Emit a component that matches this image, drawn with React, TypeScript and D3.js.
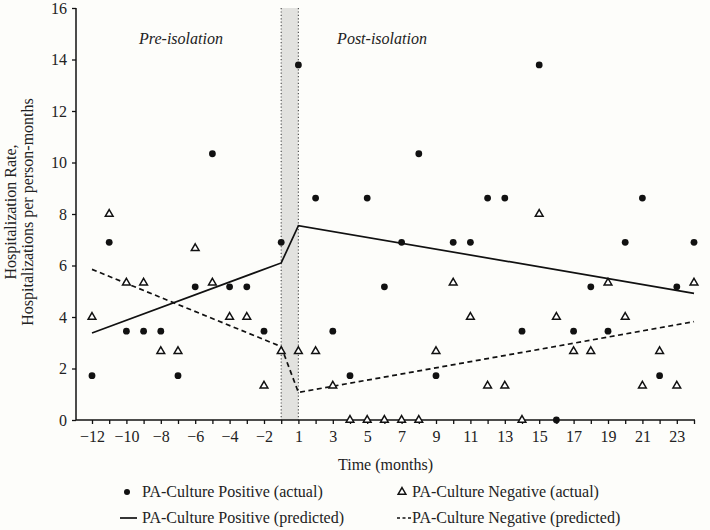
import React, { useEffect, useRef } from 'react';
import * as d3 from 'd3';

// month positions along the axis (there is no month 0)
const months = [-12, -11, -10, -9, -8, -7, -6, -5, -4, -3, -2, -1, 1, 2, 3, 4, 5, 6, 7, 8, 9, 10, 11, 12, 13, 14, 15, 16, 17, 18, 19, 20, 21, 22, 23, 24];
const monthLabels = ['−12', '', '−10', '', '−8', '', '−6', '', '−4', '', '−2', '', '1', '', '3', '', '5', '', '7', '', '9', '', '11', '', '13', '', '15', '', '17', '', '19', '', '21', '', '23', ''];
const yTicks = [0, 2, 4, 6, 8, 10, 12, 14, 16];

// PA-Culture Positive (actual), one value per month
const positiveActual = [1.72, 6.9, 3.45, 3.45, 3.45, 1.72, 5.17, 10.34, 5.17, 5.17, 3.45, 6.9, 13.79, 8.62, 3.45, 1.72, 8.62, 5.17, 6.9, 10.34, 1.72, 6.9, 6.9, 8.62, 8.62, 3.45, 13.79, 0, 3.45, 5.17, 3.45, 6.9, 8.62, 1.72, 5.17, 6.9];
// PA-Culture Negative (actual)
const negativeActual = [4.0, 8.0, 5.33, 5.33, 2.67, 2.67, 6.67, 5.33, 4.0, 4.0, 1.33, 2.67, 2.67, 2.67, 1.33, 0, 0, 0, 0, 0, 2.67, 5.33, 4.0, 1.33, 1.33, 0, 8.0, 4.0, 2.67, 2.67, 5.33, 4.0, 1.33, 2.67, 1.33, 5.33];

// segmented regression fits (segment ends)
const fitMonths = [-12, -1, 1, 24];
const positivePredicted = [3.38, 6.1, 7.55, 4.92];
const negativePredicted = [5.85, 2.85, 1.07, 3.82];

const FONT = '"Liberation Serif"';

export default function App() {
  const axisRef = useRef<SVGGElement>(null);

  const left = 76;
  const right = 695;
  const top = 8;
  const bottom = 420;

  const xScale = d3.scaleLinear().domain([0, months.length - 1]).range([92, 694]);
  const yScale = d3.scaleLinear().domain([0, 16]).range([bottom, top]);
  const xOf = (m: number) => xScale(months.indexOf(m));

  const tri = d3.symbol().type(d3.symbolTriangle).size(26)();

  const line = d3
    .line<number>()
    .x((_, i) => xOf(fitMonths[i]))
    .y((d) => yScale(d));

  useEffect(() => {
    const g = d3.select(axisRef.current);
    g.selectAll('*').remove();

    const yAxis = d3
      .axisLeft(yScale)
      .tickValues(yTicks)
      .tickSize(4)
      .tickSizeOuter(0)
      .tickPadding(5);
    const xAxis = d3
      .axisBottom(xScale)
      .tickValues(months.map((_, i) => i))
      .tickFormat((i) => monthLabels[i as number])
      .tickSize(4)
      .tickSizeOuter(0)
      .tickPadding(7);

    const ya = g.append('g').attr('transform', `translate(${left},0)`).call(yAxis);
    const xa = g.append('g').attr('transform', `translate(0,${bottom})`).call(xAxis);

    [ya, xa].forEach((a) => {
      a.select('.domain').remove();
      a.selectAll('line').attr('stroke', '#111').attr('stroke-width', 1.3);
      a.selectAll('text')
        .attr('fill', '#222')
        .style('font-family', FONT)
        .style('font-size', '16px');
    });
  }, []);

  const bandX0 = xOf(-1);
  const bandX1 = xOf(1);
  const txt = { fontFamily: FONT };

  return (
    <svg width={710} height={530} style={{ position: 'absolute', left: 0, top: 0, fontFamily: FONT }}>
      <rect width={710} height={530} fill="#fdfdfa" />

      {/* isolation window */}
      <rect x={bandX0} y={top} width={bandX1 - bandX0} height={bottom - top} fill="#e2e2df" />
      {[bandX0, bandX1].map((x, i) => (
        <line key={i} x1={x} x2={x} y1={top} y2={bottom} stroke="#555" strokeWidth={1.2} strokeDasharray="1.2,2.2" />
      ))}

      <g ref={axisRef} />
      <line x1={left} x2={left} y1={top} y2={bottom} stroke="#111" strokeWidth={1.5} />
      <line x1={left} x2={right} y1={bottom} y2={bottom} stroke="#111" strokeWidth={1.5} />

      <text style={txt} x={181} y={44} textAnchor="middle" fontStyle="italic" fontSize={16} fill="#222">Pre-isolation</text>
      <text style={txt} x={382} y={44} textAnchor="middle" fontStyle="italic" fontSize={16} fill="#222">Post-isolation</text>

      {/* predicted */}
      <path d={line(positivePredicted) ?? ''} fill="none" stroke="#111" strokeWidth={1.7} />
      <path d={line(negativePredicted) ?? ''} fill="none" stroke="#111" strokeWidth={1.7} strokeDasharray="5,3.5" />

      {/* actual */}
      {negativeActual.map((v, i) => (
        <path key={`n${i}`} d={tri ?? ''} transform={`translate(${xScale(i)},${yScale(v)})`} fill="#fff" stroke="#111" strokeWidth={1.5} />
      ))}
      {positiveActual.map((v, i) => (
        <circle key={`p${i}`} cx={xScale(i)} cy={yScale(v)} r={3.4} fill="#111" />
      ))}

      {/* axis titles */}
      <text style={txt} x={(left + right) / 2} y={470} textAnchor="middle" fontSize={16} fill="#222">Time (months)</text>
      <g transform="translate(16,212) rotate(-90)">
        <text style={txt} x={0} y={0} textAnchor="middle" fontSize={16} fill="#222">Hospitalization Rate,</text>
        <text style={txt} x={0} y={17} textAnchor="middle" fontSize={16} fill="#222">Hospitalizations per person-months</text>
      </g>

      {/* legend */}
      <circle cx={127} cy={492} r={3} fill="#111" />
      <text style={txt} x={142} y={497} fontSize={16} fill="#222">PA-Culture Positive (actual)</text>
      <line x1={120} x2={137} y1={518} y2={518} stroke="#111" strokeWidth={1.7} />
      <text style={txt} x={142} y={523} fontSize={16} fill="#222">PA-Culture Positive (predicted)</text>

      <path d={tri ?? ''} transform="translate(402,492)" fill="#fff" stroke="#111" strokeWidth={1.5} />
      <text style={txt} x={412} y={497} fontSize={16} fill="#222">PA-Culture Negative (actual)</text>
      <line x1={397} x2={411} y1={518} y2={518} stroke="#111" strokeWidth={1.5} strokeDasharray="3,2.5" />
      <text style={txt} x={412} y={523} fontSize={16} fill="#222">PA-Culture Negative (predicted)</text>
    </svg>
  );
}
